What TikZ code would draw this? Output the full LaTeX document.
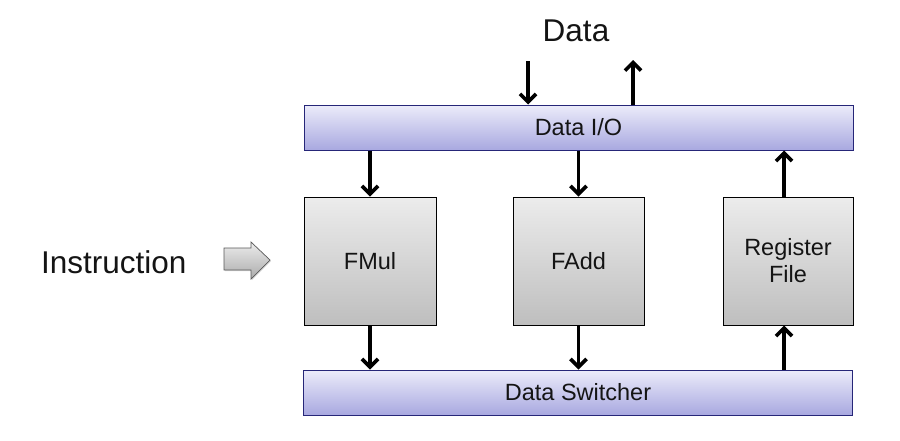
\documentclass[tikz,border=0pt]{standalone}
\usepackage{fontspec}
\setmainfont{Liberation Sans}
\usetikzlibrary{arrows.meta,shadows}
\definecolor{txt}{RGB}{20,20,20}
\definecolor{bartop}{RGB}{236,236,250}
\definecolor{barbot}{RGB}{168,168,224}
\definecolor{barline}{RGB}{38,38,120}
\definecolor{boxtop}{RGB}{236,236,236}
\definecolor{boxbot}{RGB}{190,190,190}
\tikzset{
  bar/.style={draw=barline, line width=1pt, top color=bartop, bottom color=barbot,
    minimum width=549pt, minimum height=45pt, inner sep=0pt, font=\fontsize{23.5}{26}\selectfont, text=txt},
  unit/.style={draw=black, line width=1pt, top color=boxtop, bottom color=boxbot,
    minimum height=128pt, inner sep=0pt, font=\fontsize{23.5}{27}\selectfont, text=txt, align=center,
    drop shadow={shadow xshift=1.2pt, shadow yshift=-1.2pt, opacity=0.35}},
  flow/.style={line width=3.6pt, -{Straight Barb[length=8pt,width=16pt]}},
  big/.style={font=\fontsize{31.5}{35}\selectfont, text=txt, inner sep=0pt},
}
\begin{document}
\begin{tikzpicture}[x=1pt,y=-1pt]
\useasboundingbox (0,0) rectangle (900,440);
\node[bar] (dio) at (578.5,127.5) {Data I/O};
\node[bar] (dsw) at (578,392.5) {Data Switcher};
\node[unit, minimum width=132pt] (fmul) at (370,261) {FMul};
\node[unit, minimum width=131pt] (fadd) at (578.5,261) {FAdd};
\node[unit, minimum width=130pt] (rf) at (788,261) {Register\\File};
\node[big] (data) at (576,31) {Data};
\node[big, anchor=west] (instr) at (41,262) {Instruction};
% block arrow
\draw[draw=black!65, line width=0.7pt, top color=boxtop, bottom color=boxbot!90!black,
  drop shadow={shadow xshift=1pt, shadow yshift=-1pt, opacity=0.3}]
  (224,248) -- (251,248) -- (251,242) -- (270,260) -- (251,279) -- (251,270) -- (224,270) -- cycle;
% top data arrows
\coordinate (din) at (528,61);
\coordinate (dout) at (633,60);
\draw[flow] (din) -- (din |- dio.north);
\draw[flow] (dout |- dio.north) -- (dout);
% Data I/O to units
\draw[flow] (dio.south -| fmul) -- (fmul.north);
\draw[flow] (dio.south -| fadd) -- (fadd.north);
\coordinate (rfx) at (784,0);
\draw[flow] (rf.north -| rfx) -- (dio.south -| rfx);
% units to switcher
\draw[flow] (fmul.south) -- (dsw.north -| fmul);
\draw[flow] (fadd.south) -- (dsw.north -| fadd);
\draw[flow] (dsw.north -| rfx) -- (rf.south -| rfx);
\end{tikzpicture}
\end{document}
